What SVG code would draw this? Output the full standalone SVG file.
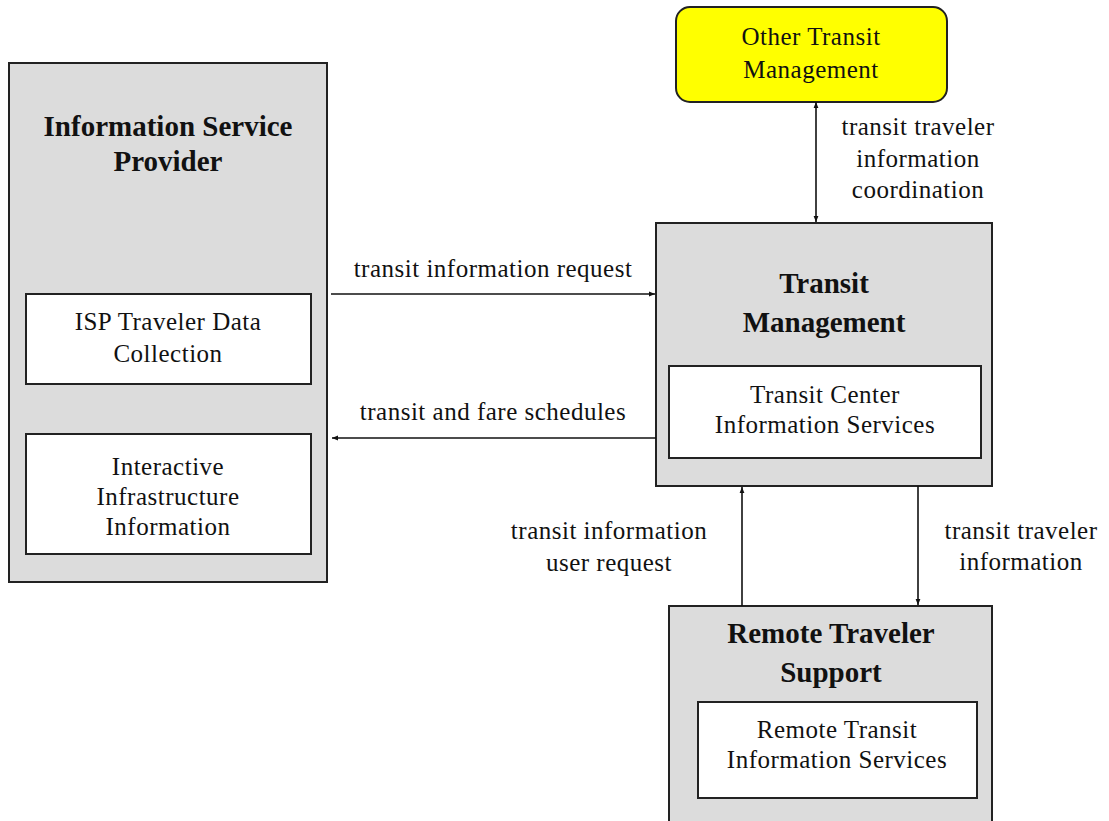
<svg xmlns="http://www.w3.org/2000/svg" width="1109" height="821" viewBox="0 0 1109 821">
<style>
.outer{fill:#dcdcdc;stroke:#222;stroke-width:2}
.inner{fill:#fff;stroke:#222;stroke-width:2}
.ext{fill:#ffff00;stroke:#222;stroke-width:2}
.t{font-family:"Liberation Serif","Times New Roman",serif;font-size:25px;fill:#111;text-anchor:middle;letter-spacing:0.5px}
.b{font-family:"Liberation Serif","Times New Roman",serif;font-size:29px;font-weight:bold;fill:#111;text-anchor:middle}
.c{stroke:#111;stroke-width:1.6;fill:none}
</style>
<defs>
<marker id="ah" viewBox="0 0 10 10" refX="10" refY="5" markerWidth="6" markerHeight="6" orient="auto-start-reverse" markerUnits="userSpaceOnUse">
<path d="M0,1 L10,5 L0,9 z" fill="#111"/>
</marker>
</defs>
<g id="isp">
<rect class="outer" x="9" y="63" width="318" height="519"/>
<text class="b" x="168" y="136">Information Service</text>
<text class="b" x="168" y="171">Provider</text>
<rect class="inner" x="26" y="294" width="285" height="90"/>
<text class="t" x="168" y="330">ISP Traveler Data</text>
<text class="t" x="168" y="362">Collection</text>
<rect class="inner" x="26" y="434" width="285" height="120"/>
<text class="t" x="168" y="475">Interactive</text>
<text class="t" x="168" y="505">Infrastructure</text>
<text class="t" x="168" y="535">Information</text>
</g>
<g id="otm">
<rect class="ext" x="676" y="7" width="271" height="95" rx="14" ry="14"/>
<text class="t" x="811" y="45">Other Transit</text>
<text class="t" x="811" y="78">Management</text>
</g>
<g id="tm">
<rect class="outer" x="656" y="223" width="336" height="263"/>
<text class="b" x="824" y="293">Transit</text>
<text class="b" x="824" y="332">Management</text>
<rect class="inner" x="669" y="366" width="312" height="92"/>
<text class="t" x="825" y="403">Transit Center</text>
<text class="t" x="825" y="433">Information Services</text>
</g>
<g id="rts">
<rect class="outer" x="669" y="606" width="323" height="230"/>
<text class="b" x="831" y="643">Remote Traveler</text>
<text class="b" x="831" y="682">Support</text>
<rect class="inner" x="698" y="702" width="279" height="96"/>
<text class="t" x="837" y="738">Remote Transit</text>
<text class="t" x="837" y="768">Information Services</text>
</g>
<g id="connectors">
<line class="c" x1="816" y1="102" x2="816" y2="222" marker-start="url(#ah)" marker-end="url(#ah)"/>
<line class="c" x1="331" y1="294" x2="655" y2="294" marker-end="url(#ah)"/>
<line class="c" x1="656" y1="438" x2="332" y2="438" marker-end="url(#ah)"/>
<line class="c" x1="742" y1="606" x2="742" y2="487" marker-end="url(#ah)"/>
<line class="c" x1="918" y1="486" x2="918" y2="605" marker-end="url(#ah)"/>
<text class="t" x="918" y="135">transit  traveler</text>
<text class="t" x="918" y="167">information</text>
<text class="t" x="918" y="198">coordination</text>
<text class="t" x="493" y="277">transit information request</text>
<text class="t" x="493" y="420">transit and fare schedules</text>
<text class="t" x="609" y="539">transit information</text>
<text class="t" x="609" y="571">user request</text>
<text class="t" x="1021" y="539">transit traveler</text>
<text class="t" x="1021" y="570">information</text>
</g>
</svg>
